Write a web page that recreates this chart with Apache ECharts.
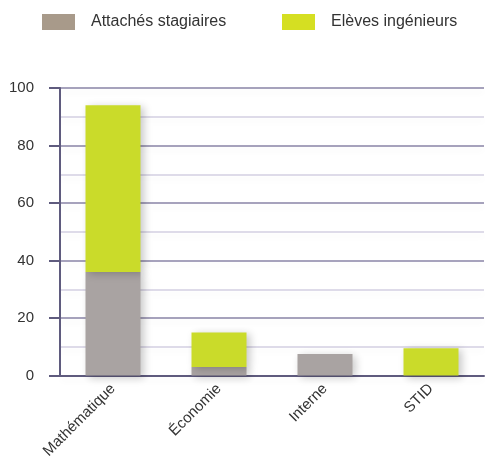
<!DOCTYPE html>
<html>
<head>
<meta charset="utf-8">
<script src="https://cdn.jsdelivr.net/npm/echarts@6/dist/echarts.min.js"></script>
<style>
html,body{margin:0;padding:0;background:#fff;}
#c{width:485px;height:464px;}
</style>
</head>
<body>
<div id="c"></div>
<script>
const categories = ['Mathématique', 'Économie', 'Interne', 'STID'];
const attaches = [36, 3, 7.5, 0];
const eleves = [58, 12, 0, 9.5];
const seriesNames = ['Attachés stagiaires', 'Elèves ingénieurs'];

const font = '"Liberation Sans", Arial, Helvetica, sans-serif';
const axisColor = '#5f5b7e';
const chart = echarts.init(document.getElementById('c'));
const shadow = {shadowBlur: 8, shadowColor: 'rgba(0,0,0,0.22)', shadowOffsetX: 3, shadowOffsetY: 2};
chart.setOption({
  animation: false,
  legend: [
    {left: 42, top: 14, padding: 0, itemWidth: 33, itemHeight: 16, icon: 'rect',
     data: [{name: seriesNames[0], itemStyle: {color: '#a89a8a', shadowBlur: 0}}],
     textStyle: {fontFamily: font, fontSize: 16, color: '#333', padding: [0, 0, 0, 11]}},
    {left: 282, top: 14, padding: 0, itemWidth: 33, itemHeight: 16, icon: 'rect',
     data: [{name: seriesNames[1], itemStyle: {color: '#d5df22', shadowBlur: 0}}],
     textStyle: {fontFamily: font, fontSize: 16, color: '#333', padding: [0, 0, 0, 11]}}
  ],
  grid: {left: 60, right: 1, top: 88, bottom: 88.5, containLabel: false},
  xAxis: {
    type: 'category', data: categories,
    axisLine: {lineStyle: {color: axisColor, width: 2}},
    axisTick: {inside: true, length: 7, lineStyle: {color: axisColor, width: 2}},
    axisLabel: {rotate: 45, margin: 11, fontFamily: font, fontSize: 15, color: '#333'}
  },
  yAxis: {
    type: 'value', min: 0, max: 100, interval: 20,
    axisLine: {show: true, lineStyle: {color: axisColor, width: 2}},
    axisTick: {show: true, length: 11, lineStyle: {color: axisColor, width: 2}},
    axisLabel: {margin: 26, fontFamily: font, fontSize: 15, color: '#333'},
    splitLine: {show: true, lineStyle: {color: '#8883a6', width: 1.5,
      shadowBlur: 6, shadowColor: 'rgba(0,0,0,0.06)', shadowOffsetY: 4}},
    minorTick: {show: false, splitNumber: 2},
    minorSplitLine: {show: true, lineStyle: {color: '#d3cfe2', width: 1.5,
      shadowBlur: 6, shadowColor: 'rgba(0,0,0,0.05)', shadowOffsetY: 4}}
  },
  series: [
    {name: seriesNames[0], type: 'bar', stack: 's', barWidth: 55, data: attaches,
     itemStyle: Object.assign({color: '#a9a3a2'}, shadow)},
    {name: seriesNames[1], type: 'bar', stack: 's', barWidth: 55, data: eleves,
     itemStyle: Object.assign({color: '#cadb2a'}, shadow)}
  ]
});
</script>
</body>
</html>
